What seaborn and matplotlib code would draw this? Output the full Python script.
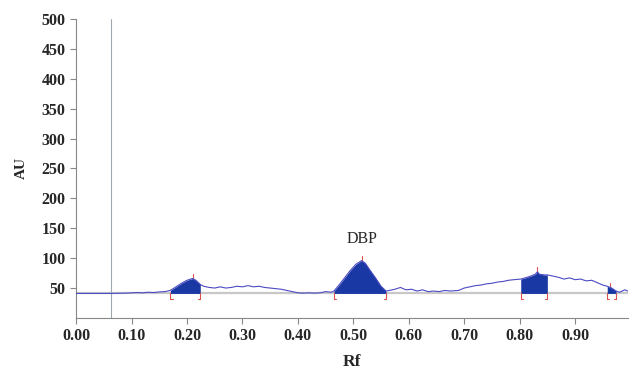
import matplotlib
matplotlib.use("Agg")
import matplotlib.pyplot as plt
import seaborn as sns
import pandas as pd
import numpy as np

# densitogram trace
rf = [0.000, 0.063, 0.090, 0.100, 0.110, 0.120, 0.130, 0.140, 0.150, 0.160,
      0.170, 0.180, 0.190, 0.200, 0.210, 0.216, 0.224, 0.230, 0.240, 0.250,
      0.260, 0.270, 0.280, 0.290, 0.300, 0.310, 0.320, 0.330, 0.340, 0.350,
      0.360, 0.370, 0.380, 0.390, 0.400, 0.410, 0.420, 0.430, 0.440, 0.450,
      0.460, 0.465, 0.475, 0.485, 0.495, 0.505, 0.515, 0.522, 0.530, 0.540,
      0.550, 0.559, 0.565, 0.575, 0.585, 0.595, 0.605, 0.615, 0.625, 0.635,
      0.645, 0.655, 0.665, 0.675, 0.690, 0.700, 0.710, 0.720, 0.730, 0.740,
      0.750, 0.760, 0.770, 0.780, 0.790, 0.802, 0.810, 0.820, 0.828, 0.832,
      0.836, 0.845, 0.850, 0.860, 0.870, 0.880, 0.890, 0.900, 0.910, 0.920,
      0.930, 0.940, 0.950, 0.958, 0.966, 0.974, 0.980, 0.990, 0.995]
au = [41, 41, 41.5, 42, 42.5, 42, 43, 42.5, 43.5, 44,
      46, 52, 58, 63, 66, 63, 56, 53, 51, 50,
      52, 50, 51, 53, 52, 54, 52, 53, 51, 50,
      49, 48, 46, 44, 42, 41.5, 42, 41.5, 42, 44,
      43, 45, 56, 68, 80, 90, 96, 91, 80, 67,
      53, 45, 46, 48, 51, 47, 48, 45, 47, 44,
      45, 44, 46, 45, 46, 50, 52, 54, 55, 57,
      58, 60, 61, 63, 64, 65, 67, 70, 73, 77,
      73, 72, 72, 70, 68, 65, 67, 64, 65, 62,
      63, 59, 55, 53, 50, 45, 43, 47, 45]

baseline = 41
peak_start = [0.170, 0.465, 0.802, 0.958]
peak_end = [0.224, 0.559, 0.850, 0.974]
peak_top = [0.210, 0.515, 0.832, 0.963]
peak_label = ["", "DBP", "", ""]

df = pd.DataFrame({"Rf": rf, "AU": au})

sns.set_theme(style="white")
plt.rcParams["font.family"] = ["Liberation Serif", "DejaVu Serif"]

fig = plt.figure(figsize=(6.29, 3.71), dpi=100)
ax = fig.add_axes([0.121, 0.143, 0.877, 0.806])

line_col = "#4b4bc4"
fill_col = "#1a38a4"
red = "#d9534f"

ax.axhline(baseline, color="#c8c8c8", lw=1.6, zorder=1)
ax.axvline(0.063, color="#a0a8b0", lw=0.8, zorder=1)

for s, e, t, lab in zip(peak_start, peak_end, peak_top, peak_label):
    sub = df[(df["Rf"] >= s) & (df["Rf"] <= e)]
    ax.fill_between(sub["Rf"], baseline, sub["AU"], color=fill_col, lw=0, zorder=2)
    for xx, d in ((s, 1), (e, -1)):
        ax.plot([xx, xx], [baseline, baseline - 10], color=red, lw=0.8, zorder=3)
        ax.plot([xx, xx + d * 0.004], [baseline - 10, baseline - 10], color=red, lw=0.8, zorder=3)
    top = np.interp(t, df["Rf"], df["AU"])
    ax.plot([t, t], [top, top + 8], color=red, lw=0.8, zorder=3)
    if lab:
        ax.text(t, top + 22, lab, ha="center", va="bottom", fontsize=11.5)

sns.lineplot(data=df, x="Rf", y="AU", ax=ax, color=line_col, lw=0.8,
             estimator=None, sort=False, zorder=4)

ax.set_xlim(0, 0.995)
ax.set_ylim(0, 500)
ax.set_xticks(np.arange(0, 0.95, 0.1))
ax.set_xticklabels([f"{v:.2f}" for v in np.arange(0, 0.95, 0.1)])
ax.set_yticks(range(50, 501, 50))
ax.tick_params(axis="both", labelsize=11.5, length=4, width=0.8, color="#888888",
               direction="out", bottom=True, left=True)
for lbl in ax.get_xticklabels() + ax.get_yticklabels():
    lbl.set_fontweight("bold")
ax.set_xlabel("Rf", fontsize=12.5, fontweight="bold", labelpad=7)
ax.set_ylabel("AU", fontsize=11, fontweight="bold", labelpad=10)

for side in ("top", "right"):
    ax.spines[side].set_visible(False)
for side in ("left", "bottom"):
    ax.spines[side].set_color("#888888")
    ax.spines[side].set_linewidth(0.8)

fig.savefig("out.png", dpi=100)
